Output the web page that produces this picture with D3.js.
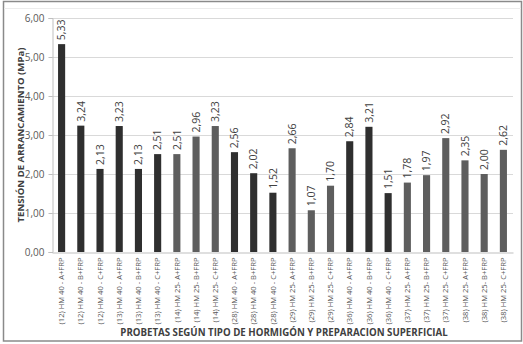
<!DOCTYPE html>
<html><head><meta charset="utf-8">
<script src="https://cdn.jsdelivr.net/npm/d3@7"></script>
<style>body{margin:0;background:#fff}svg{display:block}</style>
</head><body>
<svg id="c" width="523" height="344"></svg>
<script>
const categories = [
"(12) HM 40 - A+FRP","(12) HM 40 - B+FRP","(12) HM 40 - C+FRP",
"(13) HM 40 - A+FRP","(13) HM 40 - B+FRP","(13) HM 40 - C+FRP",
"(14) HM 25- A+FRP","(14) HM 25- B+FRP","(14) HM 25- C+FRP",
"(28) HM 40 - A+FRP","(28) HM 40 - B+FRP","(28) HM 40 - C+FRP",
"(29) HM 25- A+FRP","(29) HM 25- B+FRP","(29) HM 25- C+FRP",
"(36) HM 40 - A+FRP","(36) HM 40 - B+FRP","(36) HM 40 - C+FRP",
"(37) HM 25- A+FRP","(37) HM 25- B+FRP","(37) HM 25- C+FRP",
"(38) HM 25- A+FRP","(38) HM 25- B+FRP","(38) HM 25- C+FRP"];
const values = [5.33,3.24,2.13,3.23,2.13,2.51,2.51,2.96,3.23,2.56,2.02,1.52,2.66,1.07,1.70,2.84,3.21,1.51,1.78,1.97,2.92,2.35,2.00,2.62];
const concrete = ["HM 40","HM 40","HM 40","HM 40","HM 40","HM 40","HM 25","HM 25","HM 25","HM 40","HM 40","HM 40","HM 25","HM 25","HM 25","HM 40","HM 40","HM 40","HM 25","HM 25","HM 25","HM 25","HM 25","HM 25"];
const yTicks = [0,1,2,3,4,5,6];
const yTitle = "TENSIÓN DE ARRANCAMIENTO (MPa)";
const xTitle = "PROBETAS SEGÚN TIPO DE HORMIGÓN Y PREPARACION SUPERFICIAL";

const svg = d3.select("#c");
const font = "'Open Sans', 'Noto Sans', sans-serif";
const m = {l:52, r:513, t:18, b:252};
const x = d3.scaleBand().domain(categories).range([m.l, m.r]).paddingInner(0.63).paddingOuter(0.315);
const y = d3.scaleLinear().domain([0,6]).range([m.b, m.t]);
const color = d3.scaleOrdinal().domain(["HM 40","HM 25"]).range(["#2f2f2f","#5e5e5e"]);
const fmt = v => v.toFixed(2).replace(".", ",");

// frame
svg.append("rect").attr("x",3.5).attr("y",1.5).attr("width",518).attr("height",339.5)
  .attr("fill","none").attr("stroke","#8a8a8a").attr("stroke-width",1.5);
svg.append("line").attr("x1",4).attr("x2",521).attr("y1",8.5).attr("y2",8.5).attr("stroke","#ececec");

// grid
svg.append("g").selectAll("line").data(yTicks.slice(1)).join("line")
  .attr("x1",m.l).attr("x2",m.r).attr("y1",d=>y(d)+0.5).attr("y2",d=>y(d)+0.5)
  .attr("stroke","#d9d9d9").attr("stroke-width",1);

// y axis
const ya = svg.append("g").attr("transform",`translate(${m.l+0.5},0)`)
  .call(d3.axisLeft(y).tickValues(yTicks).tickFormat(fmt).tickSize(4).tickPadding(4));
ya.select(".domain").attr("stroke","#bfbfbf");
ya.selectAll(".tick line").attr("stroke","#bfbfbf");
ya.selectAll("text").attr("fill","#595959").style("font-family",font).style("font-size","10px");

// x axis
const xa = svg.append("g").attr("transform",`translate(0,${m.b+0.5})`)
  .call(d3.axisBottom(x).tickSize(0).tickPadding(0));
xa.select(".domain").attr("stroke","#bfbfbf");
xa.selectAll("text").attr("fill","#595959").style("font-family",font).style("font-size","7.6px")
  .attr("transform","rotate(-90)").attr("text-anchor","end").attr("dy","0.35em").attr("x",-5).attr("y",0);

// bars
svg.append("g").selectAll("rect").data(categories).join("rect")
  .attr("x",(d)=>x(d)).attr("width",x.bandwidth())
  .attr("y",(d,i)=>y(values[i])).attr("height",(d,i)=>y(0)-y(values[i]))
  .attr("fill",(d,i)=>color(concrete[i]));

// value labels
svg.append("g").selectAll("text").data(categories).join("text")
  .attr("transform",(d,i)=>`translate(${x(d)+x.bandwidth()/2},${y(values[i])-4}) rotate(-90)`)
  .attr("dy","0.35em").attr("text-anchor","start")
  .attr("fill","#404040").style("font-family",font).style("font-size","10.5px")
  .text((d,i)=>fmt(values[i]));

// titles
svg.append("text").attr("transform",`translate(21,135) rotate(-90)`).attr("text-anchor","middle")
  .attr("dy","0.35em").attr("fill","#404040").style("font-family",font).style("font-size","9.6px").style("font-weight","bold")
  .text(yTitle);
svg.append("text").attr("x",284).attr("y",333).attr("text-anchor","middle").attr("dy","0.35em")
  .attr("fill","#404040").style("font-family",font).style("font-size","9.7px").style("font-weight","bold")
  .text(xTitle);
</script>
</body></html>
